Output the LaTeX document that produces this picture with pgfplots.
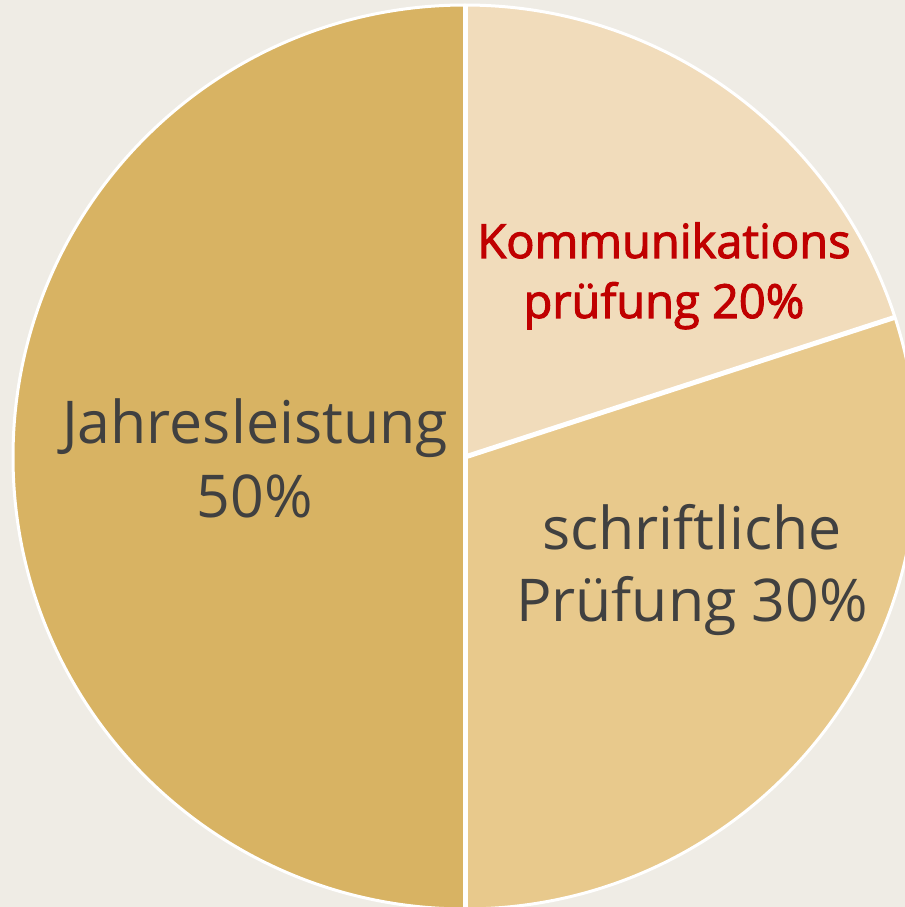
\documentclass[border=0pt]{standalone}
\usepackage{pgfplots}
\pgfplotsset{compat=1.18}
\usepackage{fontspec}
\setmainfont{Open Sans}
\newfontfamily\medfont{Open Sans}[FakeBold=2.2]
\definecolor{bgc}{HTML}{EFECE5}
\definecolor{cJ}{HTML}{D8B363}
\definecolor{cS}{HTML}{E8C98C}
\definecolor{cK}{HTML}{F1DCBB}
\definecolor{txt}{HTML}{404040}
\definecolor{red}{HTML}{C00000}
% shares in percent
\def\vK{20}
\def\vS{30}
\def\vJ{50}
\begin{document}
\begin{tikzpicture}
\begin{axis}[scale only axis, width=452.5pt, height=453.5pt,
  xmin=0, xmax=905, ymin=0, ymax=907, hide axis, clip=true]
\fill[bgc] (axis cs:0,0) rectangle (axis cs:905,907);
\pgfmathsetmacro{\aA}{90}
\pgfmathsetmacro{\aB}{90-3.6*\vK}
\pgfmathsetmacro{\aC}{\aB-3.6*\vS}
\pgfmathsetmacro{\aD}{\aC-3.6*\vJ}
\def\R{226pt}
\coordinate (O) at (axis cs:465,450);
\fill[cK] (O) -- ++(\aA:\R) arc[start angle=\aA, end angle=\aB, radius=\R] -- cycle;
\fill[cS] (O) -- ++(\aB:\R) arc[start angle=\aB, end angle=\aC, radius=\R] -- cycle;
\fill[cJ] (O) -- ++(\aC:\R) arc[start angle=\aC, end angle=\aD, radius=\R] -- cycle;
\draw[white, line width=1.5pt] (O) circle[radius=\R];
\draw[white, line width=2.5pt] (O) -- ++(\aA:\R);
\draw[white, line width=2.5pt] (O) -- ++(\aB:\R);
\draw[white, line width=2.5pt] (O) -- ++(\aC:\R);
\node[anchor=base, text=red, font=\medfont\fontsize{23.5}{28}\selectfont, inner sep=0pt] at (axis cs:664,649) {Kommunikations};
\node[anchor=base, text=red, font=\medfont\fontsize{23.5}{28}\selectfont, inner sep=0pt] at (axis cs:664,589) {prüfung 20\%};
\node[anchor=base, text=txt, font=\fontsize{29.5}{34}\selectfont, inner sep=0pt] at (axis cs:255,463) {Jahresleistung};
\node[anchor=base, text=txt, font=\fontsize{29.5}{34}\selectfont, inner sep=0pt] at (axis cs:255,389) {50\%};
\node[anchor=base, text=txt, font=\fontsize{29.5}{34}\selectfont, inner sep=0pt] at (axis cs:692,357) {schriftliche};
\node[anchor=base, text=txt, font=\fontsize{29.5}{34}\selectfont, inner sep=0pt] at (axis cs:692,285) {Prüfung 30\%};
\end{axis}
\pgfresetboundingbox
\useasboundingbox (0,0) rectangle (452.5pt,453.5pt);
\end{tikzpicture}
\end{document}
